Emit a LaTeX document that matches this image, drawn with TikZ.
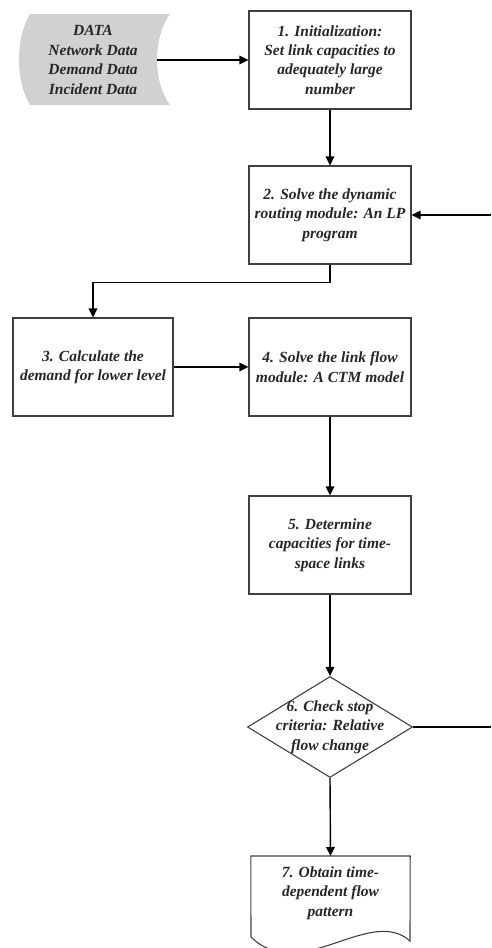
\documentclass[tikz,border=0pt]{standalone}
\usepackage{fontspec}
\setmainfont{Liberation Serif}
\usetikzlibrary{arrows.meta,shapes.geometric}

\begin{document}
\begin{tikzpicture}[x=1pt,y=-1pt,
  every node/.style={font=\fontsize{15.5}{19.4}\selectfont\bfseries\itshape,
    text=black!85, align=center},
  stepbox/.style={draw=black!75, line width=1.1pt, minimum width=162pt,
    minimum height=98pt, inner sep=0pt},
  flow/.style={line width=1.4pt, -{Triangle[length=9pt,width=8.5pt]}},
  link/.style={line width=1.4pt}
]
\useasboundingbox (0,0) rectangle (491,948);

% stored-data input
\fill[black!18] (30,14) .. controls (15.3,38) and (15.3,81) .. (30,105)
  -- (170,105) .. controls (152.7,81) and (152.7,38) .. (170,14) -- cycle;
\node (data) [minimum width=128pt, minimum height=91pt, inner sep=0pt]
  at (93,60) {DATA\\Network Data\\Demand Data\\Incident Data};

% process steps
\node (init)   [stepbox] at (330,60)  {1. Initialization:\\Set link capacities to\\adequately large\\number};
\node (route)  [stepbox] at (330,215) {2. Solve the dynamic\\routing module: An LP\\program};
\node (demand) [stepbox, minimum width=160pt] at (93,367) {3. Calculate the\\demand for lower level};
\node (ctm)    [stepbox] at (330,367) {4. Solve the link flow\\module: A CTM model};
\node (cap)    [stepbox] at (330,545) {5. Determine\\capacities for time-\\space links};

% decision
\node (chk) [diamond, draw=black!75, line width=1.1pt, minimum width=165pt,
  minimum height=101pt, inner sep=0pt] at (330,727) {};
\node (chktext) at (chk.center) {6. Check stop\\criteria: Relative\\flow change};

% output document
\node (res) [anchor=north, minimum width=159pt, minimum height=74pt, inner sep=0pt]
  at (330.5,856) {7. Obtain time-\\dependent flow\\pattern};
\draw[draw=black!75, line width=1.1pt] (res.north west) -- (res.north east)
  -- (410,941) .. controls (370,905) and (300,985) .. (251,937) -- cycle;

% loop-back ends at the right margin
\coordinate (ret1) at (491,215);
\coordinate (ret2) at (491,727);

% connectors
\draw[flow] (data.east) -- (init.west);
\draw[flow] (init.south) -- (route.north);
\draw[flow] (ret1) -- (route.east);
\draw[flow] (route.south) -- ++(0,18) -| (demand.north);
\draw[flow] (demand.east) -- (ctm.west);
\draw[flow] (ctm.south) -- (cap.north);
\draw[flow] (cap.south) -- (chk.north);
\draw[link] (chk.east) -- (ret2);
\draw[flow] (chk.south) -- (res.north);
\end{tikzpicture}
\end{document}
